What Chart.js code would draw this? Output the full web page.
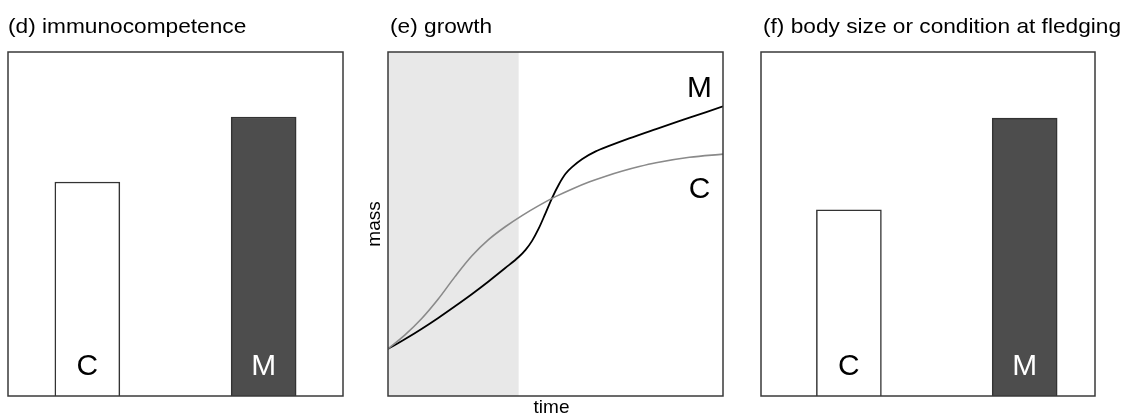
<!DOCTYPE html>
<html>
<head>
<meta charset="utf-8">
<script src="https://cdn.jsdelivr.net/npm/chart.js@4.4.1/dist/chart.umd.min.js"></script>
<style>
  html, body { margin: 0; padding: 0; background: #ffffff; }
  #wrap { position: relative; width: 1125px; height: 414px; overflow: hidden; background: #ffffff; }
  #wrap canvas { position: absolute; top: 0; }
</style>
</head>
<body>
<div id="wrap">
  <canvas id="panelD" width="370" height="414" style="left:0px"></canvas>
  <canvas id="panelE" width="380" height="414" style="left:370px"></canvas>
  <canvas id="panelF" width="375" height="414" style="left:750px"></canvas>
</div>
<script>
// ---- data ----
const groups = ['C', 'M'];
const immunocompetence = [62.2, 81.1];
const fledgingCondition = [54.1, 80.8];

// growth curve of M
const timeM = [0, 5, 10, 15, 20, 25, 30, 35, 39, 41, 43, 45, 47, 49, 51, 53, 55, 58, 62, 66, 72, 80, 90, 100];
const massM = [13.7, 16.5, 19.5, 22.7, 26.1, 29.6, 33.3, 37.2, 40.4, 42.4, 45.1, 48.7, 53.1, 57.6, 61.5, 64.6, 66.6, 68.9, 71.1, 72.7, 74.9, 77.6, 80.9, 84.2];

// growth curve of C
const timeC = [0, 5, 10, 15, 20, 25, 30, 35, 40, 45, 50, 55, 60, 65, 70, 75, 80, 90, 100];
const massC = [13.7, 17.7, 22.45, 28.2, 34.7, 40.7, 45.45, 49.2, 52.45, 55.35, 57.95, 60.2, 62.2, 63.9, 65.4, 66.7, 67.8, 69.4, 70.3];

const treatmentWindow = [0, 39];   // shaded span on the time axis

const titles = ['(d) immunocompetence', '(e) growth', '(f) body size or condition at fledging'];

// ---- helpers ----
const FONT = '"Liberation Sans", Arial, Helvetica, sans-serif';

function drawText(ctx, text, x, y, size, color, align, sx, rotate) {
  ctx.save();
  ctx.font = size + 'px ' + FONT;
  ctx.fillStyle = color;
  ctx.textAlign = align;
  ctx.textBaseline = 'alphabetic';
  ctx.translate(x, y);
  if (rotate) ctx.rotate(rotate);
  ctx.scale(sx, 1);
  ctx.fillText(text, 0, 0);
  ctx.restore();
}

// frame, title, shading and in-plot labels for each panel
const panelDecor = {
  id: 'panelDecor',
  beforeDatasetsDraw(chart, args, opts) {
    const ctx = chart.ctx;
    const a = chart.chartArea;
    if (opts.shade) {
      const xs = chart.scales.x;
      const x0 = xs.getPixelForValue(opts.shade[0]);
      const x1 = xs.getPixelForValue(opts.shade[1]);
      ctx.save();
      ctx.fillStyle = '#e8e8e8';
      ctx.fillRect(x0, a.top, x1 - x0, a.bottom - a.top);
      ctx.restore();
    }
  },
  afterDatasetsDraw(chart, args, opts) {
    const ctx = chart.ctx;
    const a = chart.chartArea;
    // panel frame
    ctx.save();
    ctx.strokeStyle = '#3a3a3a';
    ctx.lineWidth = 1.5;
    ctx.strokeRect(a.left, a.top, a.right - a.left, a.bottom - a.top);
    ctx.restore();
    // panel title
    drawText(ctx, opts.title, a.left + (opts.titleDx || 0), a.top - 19, 21, '#000', 'left', 1.08);
    // group letters inside the bars
    if (opts.barLabels) {
      const meta = chart.getDatasetMeta(0);
      meta.data.forEach((bar, i) => {
        drawText(ctx, groups[i], bar.x, a.bottom - 21, 29, opts.barLabelColors[i], 'center', 1.03);
      });
    }
    // curve labels
    if (opts.curveLabels) {
      const xs = chart.scales.x, ys = chart.scales.y;
      opts.curveLabels.forEach(l => {
        drawText(ctx, l.text, xs.getPixelForValue(l.x), ys.getPixelForValue(l.y), 29, '#000', 'center', 1.03);
      });
    }
    // axis names
    if (opts.axisNames) {
      drawText(ctx, opts.axisNames.x, (a.left + a.right) / 2 - 4, a.bottom + 16.5, 19, '#000', 'center', 1);
      drawText(ctx, opts.axisNames.y, a.left - 8, (a.top + a.bottom) / 2, 19, '#000', 'center', 1, -Math.PI / 2);
    }
  }
};

Chart.defaults.font.family = FONT;
Chart.defaults.animation = false;

function barPanel(id, values, xRange, padding, title, titleDx) {
  return new Chart(document.getElementById(id), {
    type: 'bar',
    data: {
      datasets: [{
        data: values.map((v, i) => ({ x: i, y: v })),
        backgroundColor: ['#ffffff', '#4d4d4d'],
        borderColor: '#333333',
        borderWidth: 1.5,
        borderSkipped: 'bottom',
        barThickness: 65
      }]
    },
    options: {
      responsive: false,
      devicePixelRatio: 1,
      layout: { padding },
      scales: {
        x: { type: 'linear', min: xRange[0], max: xRange[1], display: false, offset: false },
        y: { min: 0, max: 100, display: false }
      },
      plugins: {
        legend: { display: false },
        tooltip: { enabled: false },
        panelDecor: {
          title, titleDx,
          barLabels: true,
          barLabelColors: ['#000000', '#ffffff']
        }
      }
    },
    plugins: [panelDecor]
  });
}

barPanel('panelD', immunocompetence, [-0.45, 1.45],
  { left: 8, right: 27, top: 52, bottom: 18 }, titles[0], 0);

barPanel('panelF', fledgingCondition, [-0.5, 1.4],
  { left: 11, right: 30, top: 52, bottom: 18 }, titles[2], 2);

new Chart(document.getElementById('panelE'), {
  type: 'line',
  data: {
    datasets: [
      {
        label: 'C',
        data: timeC.map((t, i) => ({ x: t, y: massC[i] })),
        borderColor: '#8a8a8a',
        borderWidth: 1.6,
        pointRadius: 0,
        cubicInterpolationMode: 'monotone',
        fill: false
      },
      {
        label: 'M',
        data: timeM.map((t, i) => ({ x: t, y: massM[i] })),
        borderColor: '#000000',
        borderWidth: 1.8,
        pointRadius: 0,
        cubicInterpolationMode: 'monotone',
        fill: false
      }
    ]
  },
  options: {
    responsive: false,
    devicePixelRatio: 1,
    layout: { padding: { left: 18, right: 27, top: 52, bottom: 18 } },
    scales: {
      x: { type: 'linear', min: 0, max: 100, display: false },
      y: { min: 0, max: 100, display: false }
    },
    plugins: {
      legend: { display: false },
      tooltip: { enabled: false },
      panelDecor: {
        title: titles[1],
        titleDx: 2,
        shade: treatmentWindow,
        curveLabels: [
          { text: 'M', x: 93, y: 86.9 },
          { text: 'C', x: 93, y: 57.6 }
        ],
        axisNames: { x: 'time', y: 'mass' }
      }
    }
  },
  plugins: [panelDecor]
});
</script>
</body>
</html>
